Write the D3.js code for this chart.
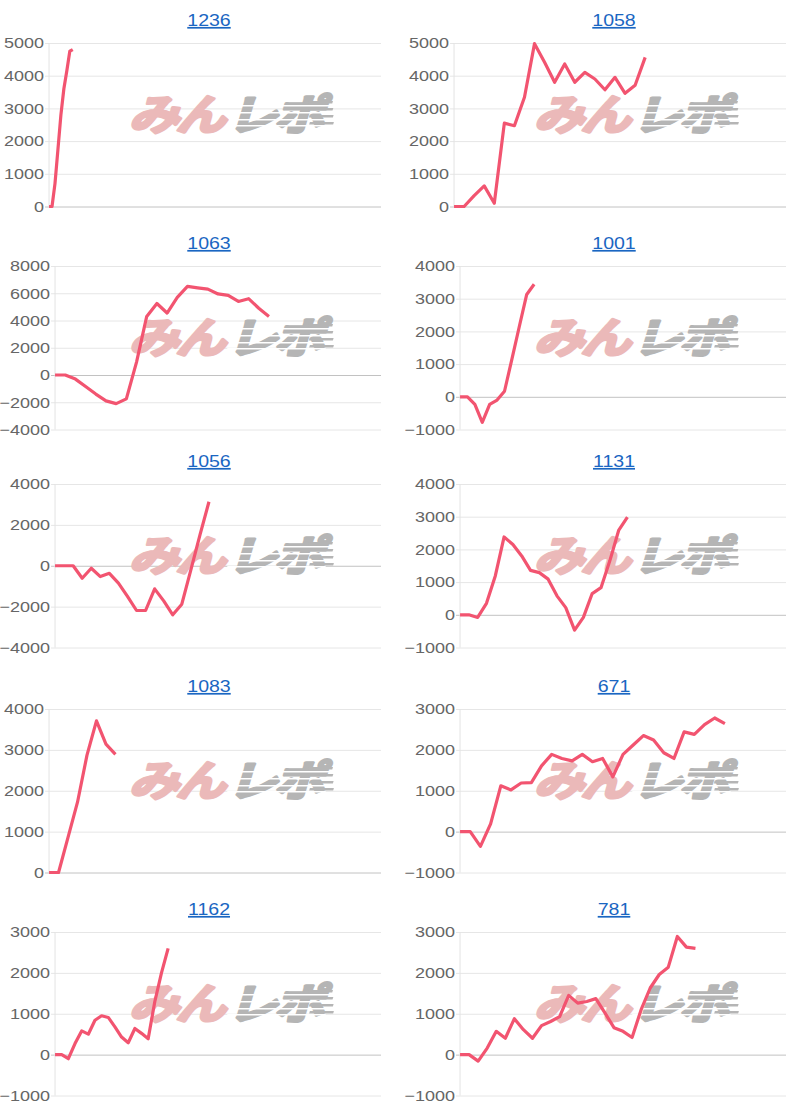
<!DOCTYPE html>
<html>
<head>
  <meta charset="utf-8">
  <script src="https://d3js.org/d3.v7.min.js"></script>
  <style>
    body { margin: 0; background: #fff; }
    svg { display: block; }
    .tick text { font-family: "Liberation Sans", Arial, sans-serif; font-size: 15px; fill: #666; }
    .ttl { font-family: "Liberation Sans", Arial, sans-serif; font-size: 17px; fill: #1a66c2; text-decoration: underline; }
    .wm { font-family: "Noto Sans CJK JP", sans-serif; font-weight: bold; font-size: 42px; letter-spacing: -3px; stroke-width: 3px; stroke-linejoin: round; }
  </style>
</head>
<body>
  <div id="chart"></div>
  <script>
    // 台番号（各グラフのタイトル）
    const titles = ["1236", "1058", "1063", "1001", "1056", "1131", "1083", "671", "1162", "781"];

    // 差枚推移
    const s1236 = [0, 0, 700, 1750, 2800, 3600, 4150, 4750, 4800];
    const s1058 = [0, 0, 330, 630, 100, 2550, 2470, 3340, 4980, 4410, 3800, 4360, 3800, 4100, 3900, 3570, 3950, 3460, 3710, 4560];
    const s1063 = [0, 0, -300, -850, -1400, -1900, -2100, -1750, 950, 4300, 5250, 4550, 5700, 6500, 6400, 6300, 5950, 5850, 5400, 5600, 4900, 4300];
    const s1001 = [0, 0, -230, -780, -230, -100, 170, 1150, 2150, 3130, 3440];
    const s1056 = [0, 0, 0, -610, -120, -530, -370, -850, -1500, -2190, -2190, -1130, -1720, -2400, -1880, -200, 1500, 3130];
    const s1131 = [0, 0, -80, 350, 1190, 2380, 2150, 1800, 1360, 1290, 1090, 580, 220, -470, -80, 650, 830, 1650, 2580, 2990];
    const s1083 = [0, 0, 860, 1720, 2870, 3710, 3140, 2890];
    const s671 = [0, 0, -360, 190, 1120, 1020, 1190, 1200, 1610, 1890, 1790, 1730, 1890, 1710, 1790, 1340, 1890, 2120, 2350, 2240, 1930, 1790, 2440, 2380, 2620, 2780, 2640];
    const s1162 = [0, 0, -100, 270, 580, 500, 840, 950, 910, 680, 430, 290, 640, 520, 390, 1300, 2000, 2600];
    const s781 = [0, 0, -160, 160, 570, 400, 880, 610, 400, 710, 810, 930, 1450, 1260, 1300, 1370, 1020, 660, 570, 420, 1100, 1630, 1960, 2140, 2890, 2630, 2600];
    const series = [s1236, s1058, s1063, s1001, s1056, s1131, s1083, s671, s1162, s781];

    // 横軸の目盛り数（グラフ幅に対するデータ間隔）
    const slots = [112, 33, 32, 44, 36, 37, 35, 32, 49, 36];

    // 縦軸 [最小, 最大, 間隔]
    const yMins = [0, 0, -4000, -1000, -4000, -1000, 0, -1000, -1000, -1000];
    const yMaxs = [5000, 5000, 8000, 4000, 4000, 4000, 4000, 3000, 3000, 3000];
    const ySteps = [1000, 1000, 2000, 1000, 2000, 1000, 1000, 1000, 1000, 1000];

    // レイアウト
    const width = 810, height = 1110;
    const rowTops = [43, 266, 484, 709, 932];
    const plotH = 163.5;
    const colOffset = 405;
    const stretch = 1.2;
    const lineColor = "#f25470";

    const svg = d3.select("#chart").append("svg")
      .attr("width", width)
      .attr("height", height);

    // ラベル幅の計測用
    const probe = svg.append("g").attr("class", "tick");
    function textW(s) {
      const t = probe.append("text").text(s);
      const w = t.node().getComputedTextLength();
      t.remove();
      return w * stretch;
    }

    titles.forEach((title, i) => {
      const col = i % 2, row = Math.floor(i / 2);
      const x0 = col * colOffset;
      const top = rowTops[row], bottom = top + plotH;
      const ticks = d3.range(yMins[i], yMaxs[i] + 1, ySteps[i]);
      const maxW = d3.max(ticks, v => textW(String(v)));
      const axisX = x0 + 4 + maxW + 5;
      const right = x0 + 381;

      const x = d3.scaleLinear().domain([0, slots[i]]).range([axisX, right]);
      const y = d3.scaleLinear().domain([yMins[i], yMaxs[i]]).range([bottom, top]);

      const g = svg.append("g");

      // グリッドと縦軸ラベル
      const yAxis = d3.axisLeft(y)
        .tickValues(ticks)
        .tickFormat(d3.format("d"))
        .tickSize(-(right - axisX + 4))
        .tickPadding(1);
      const ya = g.append("g")
        .attr("transform", `translate(${axisX - 4},0)`)
        .call(yAxis);
      ya.select(".domain").remove();
      ya.selectAll(".tick line")
        .attr("stroke", d => d === 0 ? "#c2c2c2" : "#e6e6e6");
      ya.selectAll(".tick text")
        .attr("x", 0)
        .attr("transform", `translate(-1,0) scale(${stretch},1)`);

      g.append("line")
        .attr("x1", axisX).attr("x2", axisX)
        .attr("y1", top).attr("y2", bottom)
        .attr("stroke", "#e3e3e3");

      // タイトル
      g.append("text")
        .attr("class", "ttl")
        .attr("text-anchor", "middle")
        .attr("transform", `translate(${x0 + 209},${top - 17}) scale(1.15,1)`)
        .text(title);

      // 透かしロゴ
      const wm = g.append("g")
        .attr("transform", `translate(${x0 + 228},${top + 72}) scale(${stretch},1) skewX(-14)`);
      wm.append("text")
        .attr("class", "wm")
        .attr("text-anchor", "end")
        .attr("x", -1).attr("y", 15)
        .attr("fill", "#ebb9b9")
        .attr("stroke", "#ebb9b9")
        .text("みん");
      wm.append("text")
        .attr("class", "wm")
        .attr("x", 3).attr("y", 15)
        .attr("fill", "#b5b5b5")
        .attr("stroke", "#b5b5b5")
        .text("レポ");
      [-10, -3, 4, 10].forEach(dy => {
        wm.append("rect")
          .attr("x", 2).attr("y", dy)
          .attr("width", 82).attr("height", 1.4)
          .attr("fill", "#fff");
      });
      [-14, -7, 0, 7].forEach((dy, k) => {
        wm.append("rect")
          .attr("x", 64 + k * 2).attr("y", dy)
          .attr("width", 20).attr("height", 2.5)
          .attr("fill", "#b5b5b5");
      });

      // 差枚ライン
      const line = d3.line()
        .x((d, j) => x(j))
        .y(d => y(d));
      g.append("path")
        .datum(series[i])
        .attr("fill", "none")
        .attr("stroke", lineColor)
        .attr("stroke-width", 3.2)
        .attr("stroke-linejoin", "round")
        .attr("d", line);
    });

    probe.remove();
  </script>
</body>
</html>
